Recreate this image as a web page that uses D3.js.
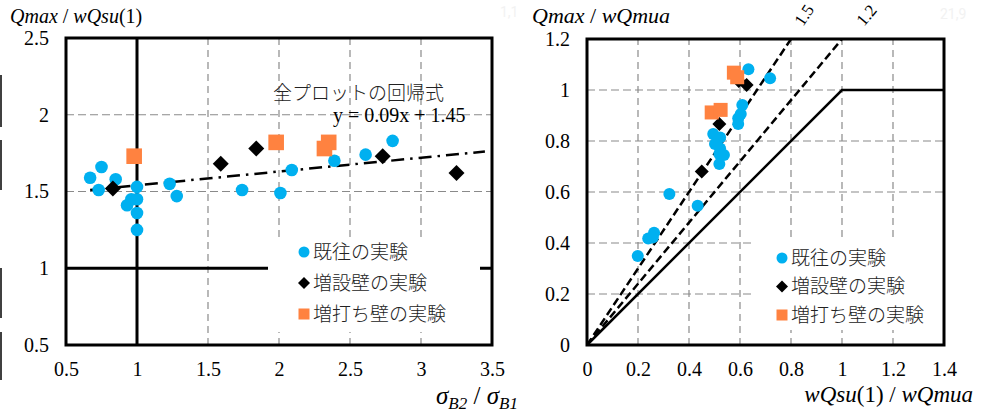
<!DOCTYPE html>
<html>
<head>
<meta charset="utf-8">
<script src="https://cdn.jsdelivr.net/npm/d3@7"></script>
<style>
body { margin:0; background:#fff; }
svg { display:block; }
.serif { font-family: "Liberation Serif", "Times New Roman", serif; }
</style>
</head>
<body>
<script>
// left chart: sigma ratio vs Qmax/wQsu(1)
var l_exp_x = [0.75,0.67,0.73,0.85,1.00,0.96,1.00,0.93,1.00,1.00,1.23,1.28,1.74,2.01,2.09,2.39,2.61,2.80];
var l_exp_y = [1.66,1.59,1.51,1.58,1.53,1.45,1.45,1.41,1.36,1.25,1.55,1.47,1.51,1.49,1.64,1.70,1.74,1.83];
var l_add_x = [0.83,1.59,1.84,2.73,3.25];
var l_add_y = [1.52,1.68,1.78,1.73,1.62];
var l_thk_x = [0.98,1.98,2.35,2.32];
var l_thk_y = [1.73,1.82,1.82,1.78];
var l_xticks = [0.5,1,1.5,2,2.5,3,3.5];
var l_yticks = [0.5,1,1.5,2,2.5];
var fit = {a:0.09, b:1.45, x0:0.67, x1:3.45};

// right chart: wQsu(1)/wQmua vs Qmax/wQmua
var r_exp_x = [0.633,0.718,0.609,0.603,0.593,0.593,0.495,0.522,0.502,0.522,0.519,0.537,0.519,0.323,0.434,0.263,0.240,0.258,0.199];
var r_exp_y = [1.081,1.046,0.941,0.906,0.889,0.867,0.827,0.814,0.788,0.771,0.749,0.745,0.710,0.592,0.546,0.440,0.418,0.422,0.349];
var r_add_x = [0.595,0.626,0.519,0.450];
var r_add_y = [1.035,1.020,0.867,0.680];
var r_thk_x = [0.576,0.589,0.489,0.524];
var r_thk_y = [1.068,1.050,0.912,0.922];
var r_xticks = [0,0.2,0.4,0.6,0.8,1,1.2,1.4];
var r_yticks = [0,0.2,0.4,0.6,0.8,1,1.2];
var ratios = [1.5,1.2];

var legendNames = ["既往の実験","増設壁の実験","増打ち壁の実験"];
var blue = "#00b0f0", orange = "#ff8240", grid = "#8a8a8a";
var jp = "'Noto Sans CJK JP',sans-serif";

var svg = d3.select("body").append("svg").attr("width",987).attr("height",412);

// stray fragments at the left edge of the picture
[[75,127],[140,190],[268,318],[332,380]].forEach(function(s){
    svg.append("line").attr("x1",1).attr("x2",1).attr("y1",s[0]).attr("y2",s[1])
        .style("stroke","#000").style("stroke-width",1.5);
});
svg.append("text").attr("x",500).attr("y",17).text("1,1").style("font-family","Roboto").style("font-size","14px").style("fill","#f2f2f2");
svg.append("text").attr("x",940).attr("y",19).text("21,9").style("font-family","Roboto").style("font-size","14px").style("fill","#f2f2f2");

function markers(g, x, y, xs, ys, kind, size){
    var pts = xs.map(function(v,i){ return [v, ys[i]]; });
    if (kind == "circle"){
        g.selectAll(null).data(pts).enter().append("circle")
            .attr("cx",function(d){return x(d[0]);}).attr("cy",function(d){return y(d[1]);})
            .attr("r",size).style("fill",blue);
    } else if (kind == "diamond"){
        g.selectAll(null).data(pts).enter().append("path")
            .attr("d","M0,"+(-size)+"L"+size+",0L0,"+size+"L"+(-size)+",0Z")
            .attr("transform",function(d){return "translate("+x(d[0])+","+y(d[1])+")";})
            .style("fill","#000");
    } else {
        g.selectAll(null).data(pts).enter().append("rect")
            .attr("x",function(d){return x(d[0])-size;}).attr("y",function(d){return y(d[1])-size;})
            .attr("width",2*size).attr("height",2*size).style("fill",orange);
    }
}

function axes(g, x, y, xt, yt, fmt){
    var xa = g.append("g").attr("transform","translate(0,"+y.range()[0]+")")
        .call(d3.axisBottom(x).tickValues(xt).tickSize(0).tickPadding(17).tickFormat(fmt));
    var ya = g.append("g").attr("transform","translate("+x.range()[0]+",0)")
        .call(d3.axisLeft(y).tickValues(yt).tickSize(0).tickPadding(17).tickFormat(fmt));
    [xa,ya].forEach(function(a){
        a.attr("font-family",null).attr("font-size",null);
        a.select(".domain").remove();
        a.selectAll("text").attr("class","serif").style("font-size","20px").style("fill","#000");
    });
}

function gridlines(g, x, y, xv, yv){
    g.selectAll(null).data(xv).enter().append("line")
        .attr("x1",function(d){return x(d);}).attr("x2",function(d){return x(d);})
        .attr("y1",y.range()[0]).attr("y2",y.range()[1])
        .style("stroke",grid).style("stroke-width",1.2).style("stroke-dasharray","7,5");
    g.selectAll(null).data(yv).enter().append("line")
        .attr("x1",x.range()[0]).attr("x2",x.range()[1])
        .attr("y1",function(d){return y(d);}).attr("y2",function(d){return y(d);})
        .style("stroke",grid).style("stroke-width",1.2).style("stroke-dasharray","8,4");
}

function legend(g, x0, y0, dy){
    var kinds = ["circle","diamond","square"];
    legendNames.forEach(function(n,i){
        var yy = y0 + i*dy;
        if (kinds[i]=="circle") g.append("circle").attr("cx",x0).attr("cy",yy).attr("r",5.5).style("fill",blue);
        if (kinds[i]=="diamond") g.append("path").attr("d","M0,-6L6,0L0,6L-6,0Z").attr("transform","translate("+x0+","+yy+")");
        if (kinds[i]=="square") g.append("rect").attr("x",x0-5.5).attr("y",yy-5.5).attr("width",11).attr("height",11).style("fill",orange);
        g.append("text").attr("x",x0+9).attr("y",yy).attr("dy","0.36em").text(n)
            .style("font-family",jp).style("font-size","19px").style("font-weight","300").style("fill","#222");
    });
}

// ---------------- left chart
var lx = d3.scaleLinear().domain([0.5,3.5]).range([66,492]);
var ly = d3.scaleLinear().domain([0.5,2.5]).range([345,38]);
var lg = svg.append("g");
gridlines(lg, lx, ly, [1.5,2,2.5,3], [1.5,2]);
lg.append("line").attr("x1",lx(1)).attr("x2",lx(1)).attr("y1",ly(0.5)).attr("y2",ly(2.5)).style("stroke","#000").style("stroke-width",3);
lg.append("line").attr("x1",lx(0.5)).attr("x2",lx(3.5)).attr("y1",ly(1)).attr("y2",ly(1)).style("stroke","#000").style("stroke-width",3);
lg.append("rect").attr("x",268).attr("y",237).attr("width",212).attr("height",95).style("fill","#fff");
lg.append("line").attr("x1",lx(fit.x0)).attr("x2",lx(fit.x1))
    .attr("y1",ly(fit.a*fit.x0+fit.b)).attr("y2",ly(fit.a*fit.x1+fit.b))
    .style("stroke","#000").style("stroke-width",2.5).style("stroke-dasharray","13,6,2.5,6");
lg.append("rect").attr("x",66).attr("y",38).attr("width",426).attr("height",307)
    .style("fill","none").style("stroke","#000").style("stroke-width",3);
markers(lg, lx, ly, l_exp_x, l_exp_y, "circle", 6.3);
markers(lg, lx, ly, l_add_x, l_add_y, "diamond", 8);
markers(lg, lx, ly, l_thk_x, l_thk_y, "square", 7.8);
axes(lg, lx, ly, l_xticks, l_yticks, d3.format(""));
legend(lg, 304, 252, 31);
lg.append("text").attr("x",273).attr("y",100).text("全プロットの回帰式")
    .style("font-family",jp).style("font-size","19px").style("font-weight","300").style("fill","#222");
lg.append("text").attr("class","serif").attr("x",333).attr("y",122).text("y = "+fit.a+"x + "+fit.b)
    .style("font-size","20px");
var lt = lg.append("text").attr("class","serif").attr("x",10).attr("y",23).style("font-size","20px");
lt.append("tspan").text("Qmax").style("font-style","italic");
lt.append("tspan").text(" / ");
lt.append("tspan").text("wQsu").style("font-style","italic");
lt.append("tspan").text("(1)");
var lxt = lg.append("text").attr("class","serif").attr("x",436).attr("y",404).style("font-size","25px").style("font-style","italic");
lxt.append("tspan").text("σ");
lxt.append("tspan").text("B2").attr("dy",5).style("font-size","17px");
lxt.append("tspan").text(" / ").attr("dy",-5).style("font-style","normal");
lxt.append("tspan").text("σ");
lxt.append("tspan").text("B1").attr("dy",5).style("font-size","17px");

// ---------------- right chart
var rx = d3.scaleLinear().domain([0,1.4]).range([587,944]);
var ry = d3.scaleLinear().domain([0,1.2]).range([345,39]);
var rg = svg.append("g");
gridlines(rg, rx, ry, [0.2,0.4,0.6,0.8,1,1.2], [0.2,0.4,0.6,0.8,1]);
rg.append("rect").attr("x",751).attr("y",240).attr("width",192).attr("height",90).style("fill","#fff");
ratios.forEach(function(k){
    var xe = 1.2/k;
    rg.append("line").attr("x1",rx(0)).attr("y1",ry(0)).attr("x2",rx(xe)).attr("y2",ry(1.2))
        .style("stroke","#000").style("stroke-width",2.5).style("stroke-dasharray","8,4");
    var ang = -Math.atan(k)*180/Math.PI;
    rg.append("text").attr("class","serif")
        .attr("transform","translate("+(rx(xe)+(k==1.5?12:22))+","+(ry(1.2)-12)+") rotate("+ang+")")
        .text(k).style("font-size","17px");
});
rg.append("path").attr("d", d3.line().x(function(d){return rx(d[0]);}).y(function(d){return ry(d[1]);})([[0,0],[1,1],[1.4,1]]))
    .style("fill","none").style("stroke","#000").style("stroke-width",2.5);
rg.append("rect").attr("x",587).attr("y",39).attr("width",357).attr("height",306)
    .style("fill","none").style("stroke","#000").style("stroke-width",3);
markers(rg, rx, ry, r_exp_x, r_exp_y, "circle", 6);
markers(rg, rx, ry, r_add_x, r_add_y, "diamond", 7);
markers(rg, rx, ry, r_thk_x, r_thk_y, "square", 7);
axes(rg, rx, ry, r_xticks, r_yticks, d3.format(""));
legend(rg, 782, 258, 28.5);
var rt = rg.append("text").attr("class","serif").attr("x",532).attr("y",23).style("font-size","22px");
rt.append("tspan").text("Qmax").style("font-style","italic");
rt.append("tspan").text(" / ");
rt.append("tspan").text("wQmua").style("font-style","italic");
var rxt = rg.append("text").attr("class","serif").attr("x",973).attr("y",402).attr("text-anchor","end").style("font-size","23px");
rxt.append("tspan").text("wQsu").style("font-style","italic");
rxt.append("tspan").text("(1) / ");
rxt.append("tspan").text("wQmua").style("font-style","italic");
</script>
</body>
</html>
